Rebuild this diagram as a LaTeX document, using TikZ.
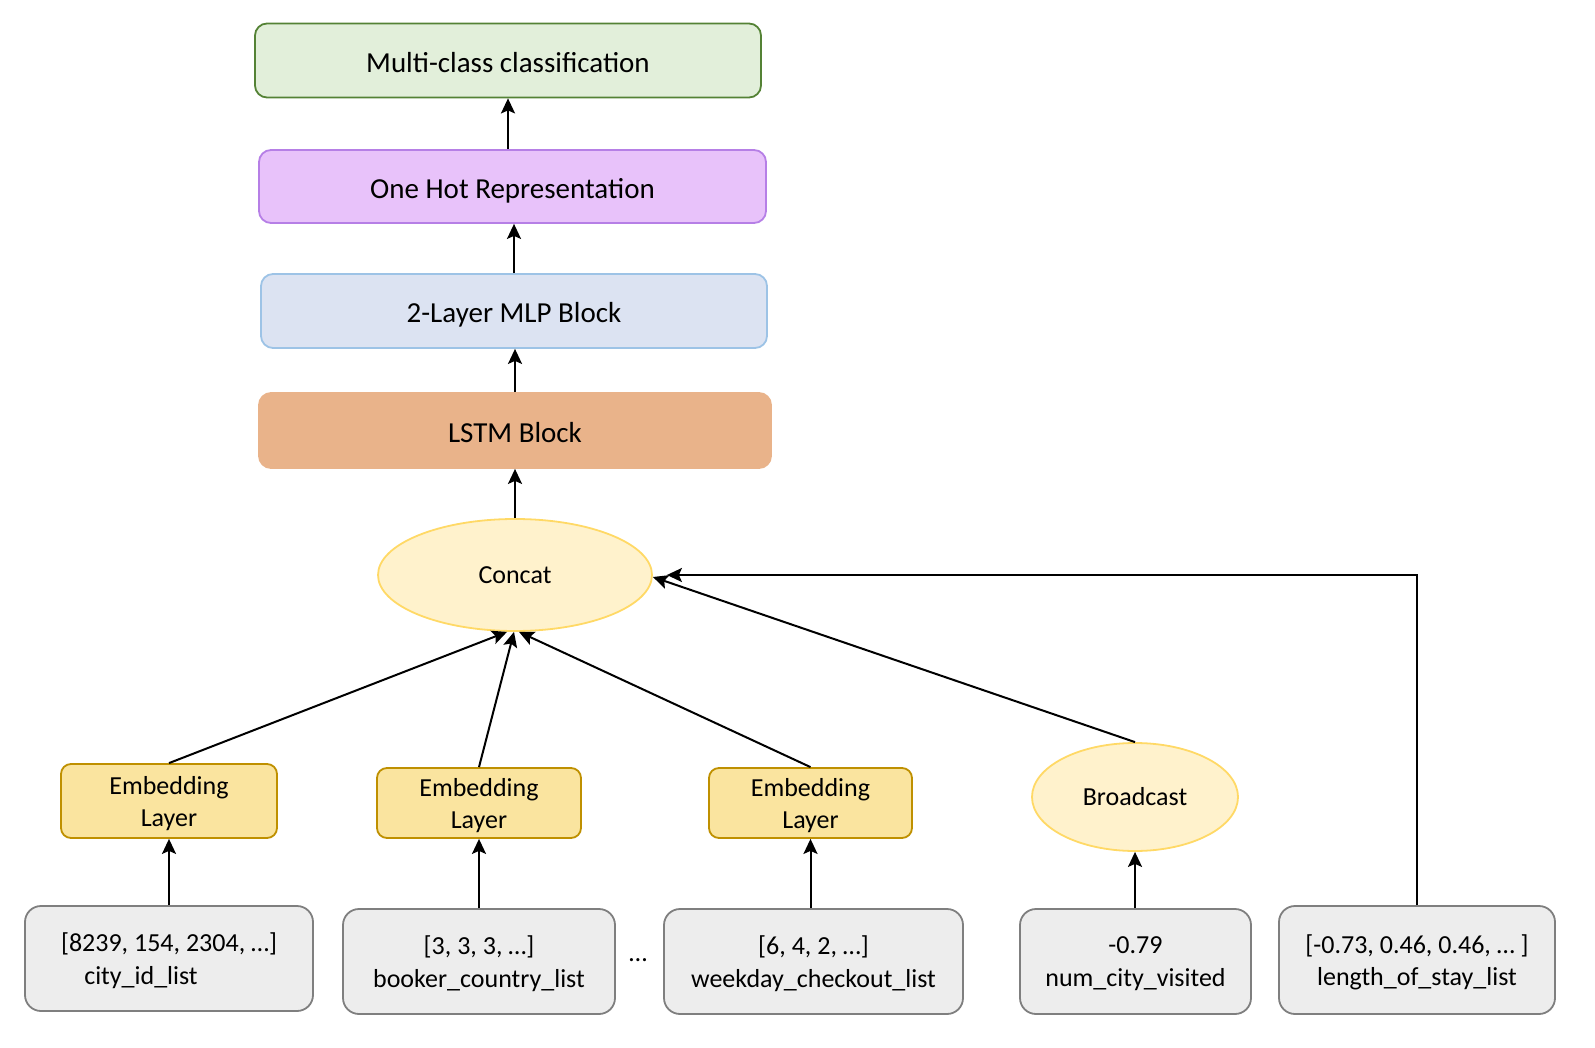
\documentclass[tikz,border=0pt]{standalone}
\usepackage{fontspec}
\setmainfont{Carlito}
\usetikzlibrary{arrows.meta,shapes.geometric}

\definecolor{clsfill}{HTML}{E2EFDA}
\definecolor{clsline}{HTML}{548235}
\definecolor{ohfill}{HTML}{E8C2FA}
\definecolor{ohline}{HTML}{B67FE6}
\definecolor{mlpfill}{HTML}{DCE3F2}
\definecolor{mlpline}{HTML}{9DC3E6}
\definecolor{lstmfill}{HTML}{E9B38A}
\definecolor{catfill}{HTML}{FFF2CC}
\definecolor{catline}{HTML}{FFD966}
\definecolor{embfill}{HTML}{FAE49F}
\definecolor{embline}{HTML}{BF9000}
\definecolor{inpfill}{HTML}{EDEDED}
\definecolor{inpline}{HTML}{7F7F7F}

\begin{document}
\begin{tikzpicture}[x=1pt, y=-1pt,
	layer/.style={rounded corners=12pt, minimum width=506pt, minimum height=74pt, inner sep=0pt, line width=1.8pt, text height=24pt, text depth=0pt, font=\fontsize{29}{35}\selectfont},
	embbox/.style={rounded corners=10pt, minimum height=70pt, inner sep=0pt, line width=1.8pt, fill=embfill, draw=embline, align=center, text depth=0pt, font=\fontsize{26}{32}\selectfont},
	oval/.style={ellipse, inner sep=0pt, line width=1.8pt, fill=catfill, draw=catline, font=\fontsize{26}{32}\selectfont},
	inpbox/.style={rounded corners=16pt, minimum height=105pt, inner sep=0pt, line width=1.8pt, fill=inpfill, draw=inpline, align=center, text depth=0pt, font=\fontsize{26}{32.5}\selectfont},
	link/.style={-{Stealth[length=15pt, width=14pt, inset=3pt]}, line width=2pt}]

	\useasboundingbox (0,0) rectangle (1595,1048);

	% upper stack
	\node[layer, fill=clsfill, draw=clsline] (cls) at (508, 60.5) {Multi-class classification};
	\node[layer, fill=ohfill, draw=ohline, minimum width=507pt, minimum height=73pt] (onehot) at (512.5, 186.5) {One Hot Representation};
	\node[layer, fill=mlpfill, draw=mlpline] (mlp) at (514, 311) {2-Layer MLP Block};
	\node[layer, fill=lstmfill, draw=lstmfill, minimum width=512pt, minimum height=75pt] (lstm) at (515, 430.5) {LSTM Block};
	\node[oval, minimum width=274pt, minimum height=112pt] (concat) at (515, 575) {Concat};

	% embeddings
	\node[embbox, minimum width=216pt, minimum height=74pt] (emb1) at (169, 801) {Embedding\\Layer};
	\node[embbox, minimum width=204pt] (emb2) at (479, 803) {Embedding\\Layer};
	\node[embbox, minimum width=203pt] (emb3) at (810.5, 803) {Embedding\\Layer};
	\node[oval, minimum width=206pt, minimum height=108pt] (bcast) at (1135, 797) {Broadcast};

	% inputs
	\node[inpbox, minimum width=288pt] (in1) at (169, 958.5) {[8239, 154, 2304, …]\\city\_id\_list\hspace*{56pt}};
	\node[inpbox, minimum width=272pt] (in2) at (479, 961.5) {[3, 3, 3, …]\\booker\_country\_list};
	\node[font=\fontsize{26}{32}\selectfont] (dots) at (638, 960) {…};
	\node[inpbox, minimum width=299pt] (in3) at (813.5, 961.5) {[6, 4, 2, …]\\weekday\_checkout\_list};
	\node[inpbox, minimum width=231pt] (in4) at (1135.5, 961.5) {-0.79\\num\_city\_visited};
	\node[inpbox, minimum width=276pt, minimum height=108pt] (in5) at (1417, 960) {[-0.73, 0.46, 0.46, … ]\\length\_of\_stay\_list};

	\draw[link] (onehot.north -| cls.south) -- (cls.south);
	\draw[link] (mlp.north) -- (mlp.north |- onehot.south);
	\draw[link] (lstm.north) -- (lstm.north |- mlp.south);
	\draw[link] (concat.north) -- (lstm.south);

	\draw[link] (emb1.north) -- ([xshift=-8pt]concat.south);
	\draw[link] (emb2.north) -- ([xshift=-1pt]concat.south);
	\draw[link] (emb3.north) -- ([xshift=4pt]concat.south);
	\draw[link] (bcast.north) -- ([yshift=-2pt]concat.east);
	\draw[link] (in5.north) |- ([xshift=14pt]concat.east);

	\draw[link] (in1.north) -- (emb1.south);
	\draw[link] (in2.north) -- (emb2.south);
	\draw[link] (emb3.south |- in3.north) -- (emb3.south);
	\draw[link] (bcast.south |- in4.north) -- (bcast.south);

\end{tikzpicture}
\end{document}
